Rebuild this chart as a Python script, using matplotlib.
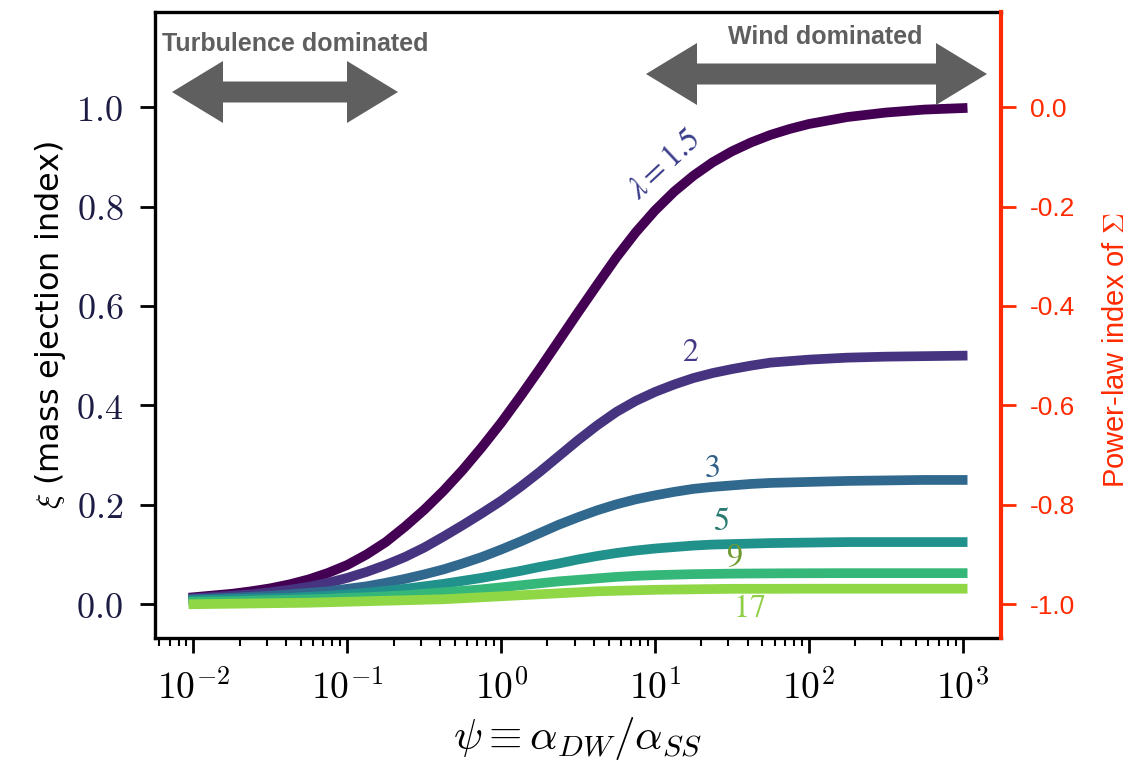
import numpy as np
import matplotlib
matplotlib.use("Agg")
import matplotlib.pyplot as plt
from matplotlib.patches import Polygon
from matplotlib.ticker import FormatStrFormatter, FuncFormatter

plt.rcParams['mathtext.fontset'] = 'cm'

# log10(psi) sample positions
log_psi = [-2.0, -1.75, -1.625, -1.5, -1.375, -1.25, -1.125, -1.0, -0.875, -0.75, -0.625,
           -0.5, -0.375, -0.25, -0.125, 0.0, 0.125, 0.25, 0.375, 0.5, 0.625, 0.75,
           0.875, 1.0, 1.125, 1.25, 1.375, 1.5, 1.625, 1.75, 1.875, 2.0, 2.25, 2.5,
           2.75, 3.0]

xi_l1p5 = [0.014, 0.021, 0.026, 0.032, 0.040, 0.050, 0.063, 0.079, 0.100, 0.125, 0.156,
           0.190, 0.228, 0.270, 0.316, 0.365, 0.418, 0.473, 0.530, 0.587, 0.643, 0.698,
           0.748, 0.792, 0.830, 0.862, 0.889, 0.911, 0.929, 0.944, 0.956, 0.966, 0.980,
           0.989, 0.995, 0.998]
xi_l2 = [0.012, 0.017, 0.020, 0.024, 0.029, 0.035, 0.043, 0.053, 0.065, 0.079, 0.095,
         0.114, 0.136, 0.159, 0.183, 0.208, 0.236, 0.266, 0.298, 0.330, 0.360, 0.387,
         0.409, 0.427, 0.442, 0.455, 0.465, 0.473, 0.480, 0.486, 0.489, 0.492, 0.496,
         0.498, 0.499, 0.500]
xi_l3 = [0.010, 0.013, 0.015, 0.017, 0.020, 0.023, 0.026, 0.031, 0.036, 0.043, 0.051,
         0.060, 0.070, 0.082, 0.095, 0.110, 0.126, 0.143, 0.160, 0.175, 0.189, 0.201,
         0.211, 0.219, 0.226, 0.232, 0.236, 0.239, 0.242, 0.244, 0.245, 0.246, 0.248,
         0.249, 0.250, 0.250]
xi_l5 = [0.008, 0.010, 0.011, 0.012, 0.013, 0.015, 0.017, 0.020, 0.023, 0.027, 0.031,
         0.036, 0.041, 0.047, 0.053, 0.060, 0.067, 0.075, 0.082, 0.090, 0.097, 0.103,
         0.108, 0.112, 0.115, 0.118, 0.120, 0.121, 0.122, 0.123, 0.1235, 0.124, 0.125,
         0.125, 0.125, 0.125]
xi_l9 = [0.005, 0.006, 0.007, 0.008, 0.009, 0.010, 0.011, 0.013, 0.014, 0.016, 0.018,
         0.021, 0.024, 0.027, 0.030, 0.034, 0.038, 0.042, 0.046, 0.049, 0.052, 0.055,
         0.057, 0.0585, 0.0595, 0.0605, 0.061, 0.0615, 0.0618, 0.062, 0.0622, 0.0623,
         0.0625, 0.0625, 0.0625, 0.0625]
xi_l17 = [0.000, 0.001, 0.0015, 0.002, 0.0025, 0.003, 0.004, 0.005, 0.006, 0.007, 0.008,
          0.009, 0.010, 0.012, 0.014, 0.016, 0.018, 0.020, 0.022, 0.024, 0.026, 0.027,
          0.028, 0.029, 0.0295, 0.030, 0.0305, 0.031, 0.031, 0.031, 0.0311, 0.0312,
          0.0312, 0.0312, 0.0312, 0.0312]

curves = [xi_l1p5, xi_l2, xi_l3, xi_l5, xi_l9, xi_l17]
line_colors = ['#440154', '#463480', '#31688e', '#21918c', '#35b779', '#8fd744']
text_colors = ['#3a3d8a', '#463a86', '#2f5f88', '#2a7a70', '#6e9a30', '#8fcf44']

# curve labels: anchor (psi, xi) and rotation
label_texts = [r'$\lambda = 1.5$', r'$2$', r'$3$', r'$5$', r'$9$', r'$17$']
label_psi = [11.5, 17.0, 23.5, 27.0, 33.0, 41.0]
label_xi = [0.885, 0.507, 0.274, 0.167, 0.093, -0.008]
label_rot = [43, 0, 0, 0, 0, 0]

left_ticks = [0.0, 0.2, 0.4, 0.6, 0.8, 1.0]
right_ticks = [0.0, -0.2, -0.4, -0.6, -0.8, -1.0]

psi = 10.0 ** np.array(log_psi)

fig = plt.figure(figsize=(11.35, 7.6), dpi=100)
ax = fig.add_axes([0.1366, 0.1605, 0.7454, 0.8235])

for ys, c in zip(curves, line_colors):
    ax.plot(psi, ys, color=c, lw=7, solid_joinstyle='round')

for t, px, py, r, c in zip(label_texts, label_psi, label_xi, label_rot, text_colors):
    ax.text(px, py, t, color=c, fontsize=23, rotation=r, ha='center', va='center',
            math_fontfamily='stix')

ax.set_xscale('log')
ax.xaxis.set_major_formatter(FuncFormatter(lambda v, pos: r'$10^{%d}$' % round(np.log10(v))))
ax.set_ylim(-0.068, 1.191)
ax.set_yticks(left_ticks)
ax.set_yticklabels([r'$%.1f$' % v for v in left_ticks])
ax.tick_params(axis='y', labelsize=26, length=11, width=2, pad=12, labelcolor='#1c1c44')
ax.tick_params(axis='x', which='major', labelsize=27, length=11, width=2, pad=12)
ax.tick_params(axis='x', which='minor', length=6, width=1.5)
for s in ['left', 'top', 'bottom']:
    ax.spines[s].set_linewidth(2.4)
ax.spines['right'].set_visible(False)

ax.set_xlabel(r'$\psi \equiv \alpha_{DW}/\alpha_{SS}$', fontsize=31, labelpad=6)
ax.set_ylabel(r'$\xi$ (mass ejection index)', fontsize=23, labelpad=6)

# right axis: power-law index of the surface density
red = '#ff2a00'
ax2 = ax.twinx()
ax2.set_ylim(-1.068, 0.191)
ax2.set_yticks(right_ticks)
ax2.yaxis.set_major_formatter(FormatStrFormatter('%.1f'))
ax2.tick_params(axis='y', colors=red, labelsize=19, length=11, width=2, pad=10)
for lab in ax2.get_yticklabels():
    lab.set_family('Liberation Sans')
for s in ['left', 'top', 'bottom']:
    ax2.spines[s].set_visible(False)
ax2.spines['right'].set_color(red)
ax2.spines['right'].set_linewidth(3)
ax2.set_ylabel(r'Power-law index of $\Sigma$', color=red, fontsize=21,
               family='Liberation Sans')
ax2.yaxis.set_label_coords(1.119, 0.46)

# regime arrows and captions (figure pixels)
gray = '#5f5f5f'
W, H = 1135.0, 760.0


def double_arrow(x0, x1, yc, shaft=21, head_w=62, head_l=51):
    pts = [(x0, yc), (x0 + head_l, yc - head_w / 2), (x0 + head_l, yc - shaft / 2),
           (x1 - head_l, yc - shaft / 2), (x1 - head_l, yc - head_w / 2), (x1, yc),
           (x1 - head_l, yc + head_w / 2), (x1 - head_l, yc + shaft / 2),
           (x0 + head_l, yc + shaft / 2), (x0 + head_l, yc + head_w / 2)]
    return Polygon([(x / W, 1 - y / H) for x, y in pts], closed=True, color=gray,
                   lw=0, transform=fig.transFigure, figure=fig)


fig.patches.append(double_arrow(172, 398, 92))
fig.patches.append(double_arrow(646, 987, 74))

fig.text(162 / W, 1 - 44 / H, 'Turbulence dominated', color=gray, fontsize=18,
         fontweight='bold', family='Liberation Sans', ha='left', va='center')
fig.text(825 / W, 1 - 37 / H, 'Wind dominated', color=gray, fontsize=18,
         fontweight='bold', family='Liberation Sans', ha='center', va='center')

fig.savefig('out.png', dpi=100)
